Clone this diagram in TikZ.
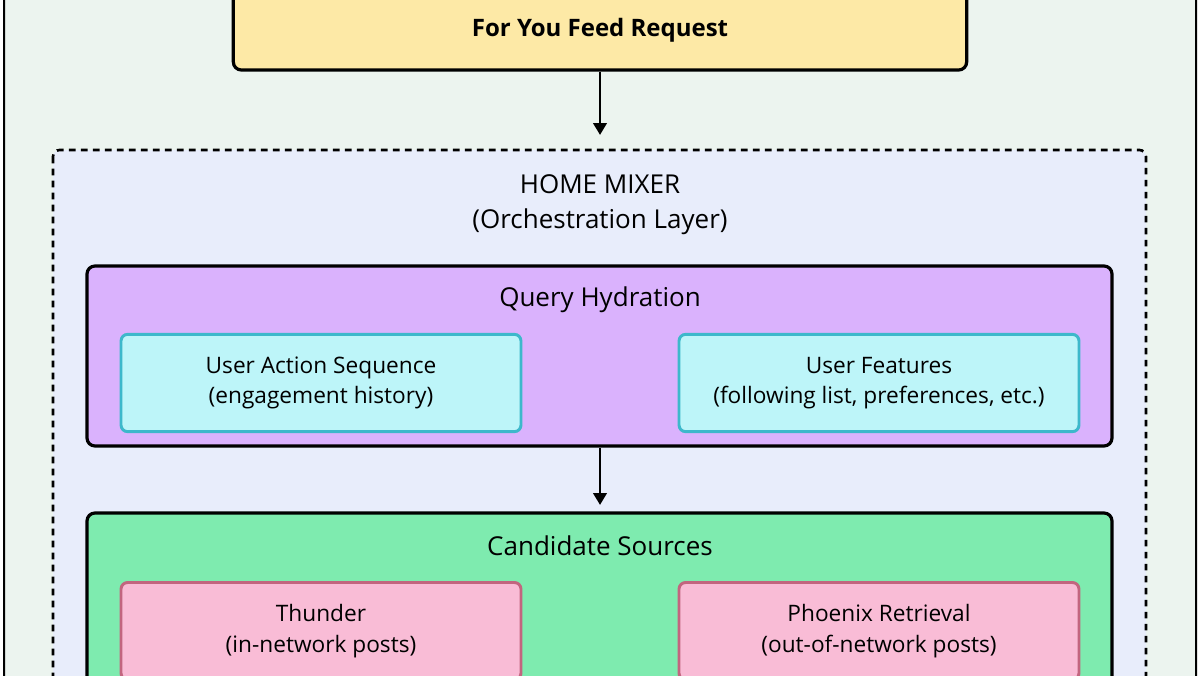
\documentclass[tikz,border=0pt]{standalone}
\usepackage{fontspec}
\setmainfont{Open Sans}
\usetikzlibrary{positioning,arrows.meta}
\definecolor{bgframe}{HTML}{ECF4EF}
\definecolor{mixerbg}{HTML}{E8EDFB}
\definecolor{reqfill}{HTML}{FDE9A6}
\definecolor{hydfill}{HTML}{DAB2FD}
\definecolor{featfill}{HTML}{BDF5F9}
\definecolor{featline}{HTML}{3DB8CB}
\definecolor{srcfill}{HTML}{7EEBAF}
\definecolor{postfill}{HTML}{F9BCD6}
\definecolor{postline}{HTML}{C2657F}
\begin{document}
\begin{tikzpicture}[x=0.75pt,y=-0.75pt,>={Stealth[length=9pt,width=10pt,inset=0pt]},line width=2.2pt,
    stage/.style={draw=black,rounded corners=6pt,line width=2.4pt},
    feat/.style={draw=featline,fill=featfill,rounded corners=5pt,line width=2.2pt,
      minimum width=300pt,minimum height=73pt,align=center,font=\fontsize{17}{23}\selectfont},
    post/.style={feat,draw=postline,fill=postfill},
    title/.style={font=\fontsize{19.5}{26}\selectfont,align=center}]
  \useasboundingbox (0,0) rectangle (1200,675);
  \begin{scope}
  \clip (0,0) rectangle (1200,675);
  % outer frame
  \draw[fill=bgframe,line width=1.5pt,rounded corners=8pt] (4,-30) rectangle (1196,720);
  % request
  \node[stage,fill=reqfill,minimum width=550pt,minimum height=60pt,
        font=\bfseries\fontsize{18}{24}\selectfont] (req) at (600,30) {For You Feed Request};
  % home mixer
  \draw[dash pattern=on 5pt off 4pt,line width=2pt,fill=mixerbg,rounded corners=5pt] (53,150) rectangle (1146,720);
  \node[title] (mixer) at (600,205) {HOME MIXER\\(Orchestration Layer)};
  \coordinate (mixtop) at (600,135);
  % query hydration
  \draw[stage,fill=hydfill] (87,266) rectangle (1112,446);
  \node[title] (hyd) at (600,300) {Query Hydration};
  \node[feat] (uas) at (321,383) {User Action Sequence\\(engagement history)};
  \node[feat] (uf) at (879,383) {User Features\\(following list, preferences, etc.)};
  \coordinate (hydbot) at (600,448);
  \coordinate (srctop) at (600,505);
  % candidate sources
  \draw[stage,fill=srcfill] (87,513) rectangle (1112,720);
  \node[title] (src) at (600,546) {Candidate Sources};
  \node[post,anchor=north] (thunder) at (321,581) {Thunder\\(in-network posts)};
  \node[post,anchor=north] (phoenix) at (879,581) {Phoenix Retrieval\\(out-of-network posts)};
  % flow
  \draw[->] (req) -- (mixtop);
  \draw[->] (hydbot) -- (srctop);
  \end{scope}
\end{tikzpicture}
\end{document}
